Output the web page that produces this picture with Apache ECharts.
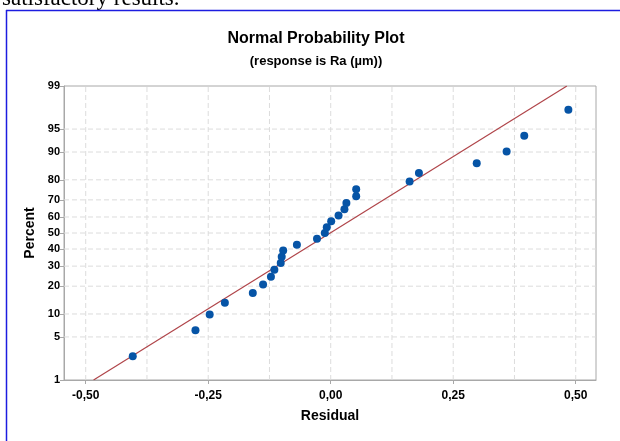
<!DOCTYPE html>
<html>
<head>
<meta charset="utf-8">
<script src="https://cdn.jsdelivr.net/npm/echarts@6/dist/echarts.min.js"></script>
<style>html,body{margin:0;padding:0;background:#fff}#c{width:620px;height:441px}</style>
</head>
<body>
<div id="c"></div>
<script>
// ---- data ----
var residuals = [-0.404, -0.276, -0.247, -0.216, -0.159, -0.138, -0.122, -0.115, -0.102, -0.100, -0.097,
  -0.069, -0.028, -0.012, -0.008, 0.001, 0.016, 0.028, 0.032, 0.052, 0.052, 0.161, 0.180, 0.298, 0.359, 0.395, 0.485];
var percents = [2.55, 6.2, 9.85, 13.5, 17.15, 20.8, 24.45, 28.1, 31.75, 35.4, 39.05, 42.7, 46.35, 50.0,
  53.65, 57.3, 60.95, 64.6, 68.25, 71.9, 75.55, 79.2, 82.85, 86.5, 90.15, 93.8, 97.45];
var fitLineX = [-0.484, 0.482];
var fitLineP = [1, 99];
var yTickPercents = [1, 5, 10, 20, 30, 40, 50, 60, 70, 80, 90, 95, 99];
var xTickLabels = [-0.5, -0.25, 0, 0.25, 0.5];
var xGridValues = [-0.5, -0.375, -0.25, -0.125, 0, 0.125, 0.25, 0.375, 0.5];
var xMin = -0.5443, xMax = 0.5414;

// inverse standard normal (Acklam) — used as the probability-axis transform
function probit(p) {
  var a = [-3.969683028665376e+01, 2.209460984245205e+02, -2.759285104469687e+02, 1.383577518672690e+02, -3.066479806614716e+01, 2.506628277459239e+00];
  var b = [-5.447609879822406e+01, 1.615858368580409e+02, -1.556989798598866e+02, 6.680131188771972e+01, -1.328068155288572e+01];
  var c = [-7.784894002430293e-03, -3.223964580411365e-01, -2.400758277161838e+00, -2.549732539343734e+00, 4.374664141464968e+00, 2.938163982698783e+00];
  var d = [7.784695709041462e-03, 3.224671290700398e-01, 2.445134137142996e+00, 3.754408661907416e+00];
  var pl = 0.02425, q, r;
  if (p < pl) { q = Math.sqrt(-2 * Math.log(p));
    return (((((c[0]*q+c[1])*q+c[2])*q+c[3])*q+c[4])*q+c[5]) / ((((d[0]*q+d[1])*q+d[2])*q+d[3])*q+1); }
  if (p > 1 - pl) { q = Math.sqrt(-2 * Math.log(1 - p));
    return -(((((c[0]*q+c[1])*q+c[2])*q+c[3])*q+c[4])*q+c[5]) / ((((d[0]*q+d[1])*q+d[2])*q+d[3])*q+1); }
  q = p - 0.5; r = q * q;
  return (((((a[0]*r+a[1])*r+a[2])*r+a[3])*r+a[4])*r+a[5])*q / (((((b[0]*r+b[1])*r+b[2])*r+b[3])*r+b[4])*r+1);
}
function zOf(pct) { return probit(pct / 100); }

var yTickZ = yTickPercents.map(zOf);
var zMin = zOf(1), zMax = zOf(99);
var points = residuals.map(function (x, i) { return [x, zOf(percents[i])]; });
var fitData = fitLineX.map(function (x, i) { return [x, zOf(fitLineP[i])]; });

var FONT = "'Liberation Sans', Arial, sans-serif";
var gridStyle = { color: '#dcdcdc', type: [5, 3], width: 1 };
var gridSeries = [];
yTickZ.forEach(function (z, i) {
  if (i > 0 && i < yTickZ.length - 1)
    gridSeries.push({ type: 'line', data: [[xMin, z], [xMax, z]], z: 1, symbol: 'none', silent: true, lineStyle: gridStyle });
});
xGridValues.forEach(function (v) {
  gridSeries.push({ type: 'line', data: [[v, zMin], [v, zMax]], z: 1, symbol: 'none', silent: true, lineStyle: gridStyle });
});

var chart = echarts.init(document.getElementById('c'));
chart.setOption({
  animation: false,
  backgroundColor: '#ffffff',
  grid: { left: 64, right: 24, top: 86, bottom: 61, show: true, borderColor: '#a8a8a8', borderWidth: 1, backgroundColor: 'transparent' },
  xAxis: {
    type: 'value', min: xMin, max: xMax,
    name: 'Residual', nameLocation: 'middle', nameGap: 29,
    nameTextStyle: { fontFamily: FONT, fontSize: 14, fontWeight: 'bold', color: '#000' },
    axisLine: { show: true, onZero: false, lineStyle: { color: '#a8a8a8', width: 1 } },
    axisTick: { show: true, length: 4, customValues: xTickLabels, lineStyle: { color: '#a8a8a8' } },
    axisLabel: { customValues: xTickLabels, margin: 10, fontFamily: FONT, fontSize: 12, fontWeight: 'bold', color: '#000',
      formatter: function (v) { return v.toFixed(2).replace('.', ','); } },
    splitLine: { show: false }
  },
  yAxis: {
    type: 'value', min: zMin, max: zMax,
    name: 'Percent', nameLocation: 'middle', nameGap: 18,
    nameTextStyle: { fontFamily: FONT, fontSize: 14, fontWeight: 'bold', color: '#000' },
    axisLine: { show: true, onZero: false, lineStyle: { color: '#a8a8a8', width: 1 } },
    axisTick: { show: true, length: 4, customValues: yTickZ, lineStyle: { color: '#a8a8a8' } },
    axisLabel: { customValues: yTickZ, margin: 4, fontFamily: FONT, fontSize: 11, fontWeight: 'bold', color: '#000',
      formatter: function (v) {
        for (var i = 0; i < yTickZ.length; i++) if (Math.abs(yTickZ[i] - v) < 1e-6) return String(yTickPercents[i]);
        return '';
      } },
    splitLine: { show: false }
  },
  series: gridSeries.concat([
    { type: 'line', data: fitData, z: 2, symbol: 'none', silent: true,
      lineStyle: { color: '#b0454a', width: 1.2 } },
    { type: 'scatter', data: points, z: 3, symbol: 'circle', symbolSize: 8,
      itemStyle: { color: '#0654a6', opacity: 1 } }
  ]),
  graphic: [
    { type: 'text', style: { text: 'satisfactory results.', x: 2, y: 10, verticalAlign: 'bottom', textVerticalAlign: 'bottom', fontFamily: "'Liberation Serif', 'Times New Roman', serif", fontSize: 23, fill: '#000' } },
    { type: 'line', shape: { x1: 6.5, y1: 10, x2: 6.5, y2: 441 }, style: { stroke: '#1c1ce0', lineWidth: 1.5 } },
    { type: 'line', shape: { x1: 6, y1: 10.5, x2: 620, y2: 10.5 }, style: { stroke: '#1c1ce0', lineWidth: 1.5 } },
    { type: 'text', style: { text: 'Normal Probability Plot', x: 316, y: 39, align: 'center', verticalAlign: 'middle', textAlign: 'center', textVerticalAlign: 'middle', fontFamily: FONT, fontSize: 16, fontWeight: 'bold', fill: '#000' } },
    { type: 'text', style: { text: '(response is Ra (µm))', x: 316, y: 61, align: 'center', verticalAlign: 'middle', textAlign: 'center', textVerticalAlign: 'middle', fontFamily: FONT, fontSize: 13, fontWeight: 'bold', fill: '#000' } }
  ]
});
</script>
</body>
</html>
